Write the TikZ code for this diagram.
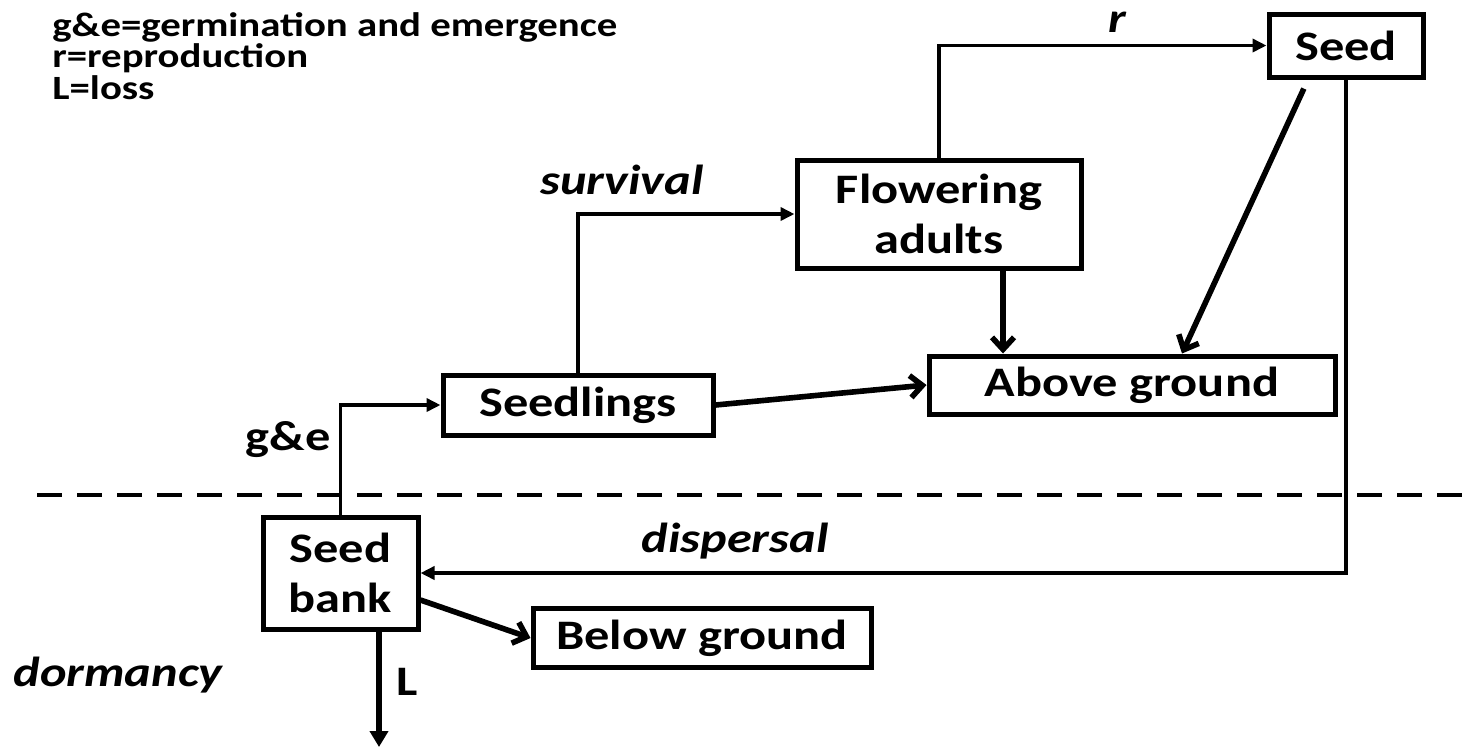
\documentclass[tikz,border=0pt]{standalone}
\usepackage{fontspec}
\setmainfont{Carlito}[FakeStretch=1.2]
\usetikzlibrary{arrows.meta}

\begin{document}
\begin{tikzpicture}[
        x=0.5pt, y=-0.5pt,
        box/.style={draw, line width=2.5pt, inner sep=0pt, align=center,
            font=\bfseries\fontsize{21}{25}\selectfont},
        lbl/.style={font=\bfseries\itshape\fontsize{21}{25}\selectfont},
        key/.style={anchor=north west, align=left, inner sep=0pt,
            font=\bfseries\fontsize{17}{14.5}\selectfont},
        thinarrow/.style={line width=1.8pt, -{Triangle[length=7pt,width=6.5pt]}},
        thickarrow/.style={line width=2.8pt, -{Straight Barb[length=6pt,width=11pt]}}
    ]
    \useasboundingbox (0,0) rectangle (1465,751);

    % legend
    \node[key] (legend) at (52,12) {g\&e=germination and emergence\\r=reproduction\\L=loss};

    % soil surface
    \coordinate (gl) at (37,495);
    \coordinate (gr) at (1465,495);
    \draw[line width=2pt, dash pattern=on 12.5pt off 7.5pt] (gl) -- (gr);

    % boxes
    \node[box, minimum width=77pt, minimum height=31.5pt] (seed) at (1346,45.5) {Seed};
    \node[box, minimum width=142pt, minimum height=54pt] (flow) at (939,214) {Flowering\\adults};
    \node[box, minimum width=203pt, minimum height=29pt] (above) at (1132,385) {Above ground};
    \node[box, minimum width=135pt, minimum height=30pt] (sdl) at (578,405) {Seedlings};
    \node[box, minimum width=77.5pt, minimum height=56pt] (bank) at (340.5,573) {Seed\\bank};
    \node[box, minimum width=169pt, minimum height=29.5pt] (below) at (702,638) {Below ground};

    % thin transitions
    \draw[thinarrow] (flow.north) |- (seed);
    \draw[thinarrow] (sdl.north) |- (flow);
    \draw[thinarrow] (bank.north) |- (sdl);
    \draw[thinarrow] (seed.south) |- (bank);

    % losses
    \draw[thickarrow] (sdl.east) -- (above.west);
    \coordinate (fa) at ([xshift=32pt]flow.south);
    \draw[thickarrow] (fa) -- (fa |- above.north);
    \draw[thickarrow, shorten <=5pt] ([xshift=-19pt]seed.south) -- ([xshift=25pt]above.north);
    \draw[thickarrow] ([yshift=-13.5pt]bank.east) -- (below.west);
    \coordinate (lossend) at (379,747);
    \draw[line width=2.8pt, -{Triangle[length=8pt,width=9pt]}] (bank.south -| lossend) -- (lossend);

    % labels
    \node[lbl] (r) at (1117,22) {r};
    \node[lbl] (surv) at (622,180) {survival};
    \node[font=\bfseries\fontsize{21}{25}\selectfont] (ge) at (288,440) {g\&e};
    \node[lbl] (disp) at (735,541) {dispersal};
    \node[lbl] (dorm) at (118,675) {dormancy};
    \node[font=\bfseries\fontsize{21}{25}\selectfont] (loss) at (407,682) {L};
\end{tikzpicture}
\end{document}
